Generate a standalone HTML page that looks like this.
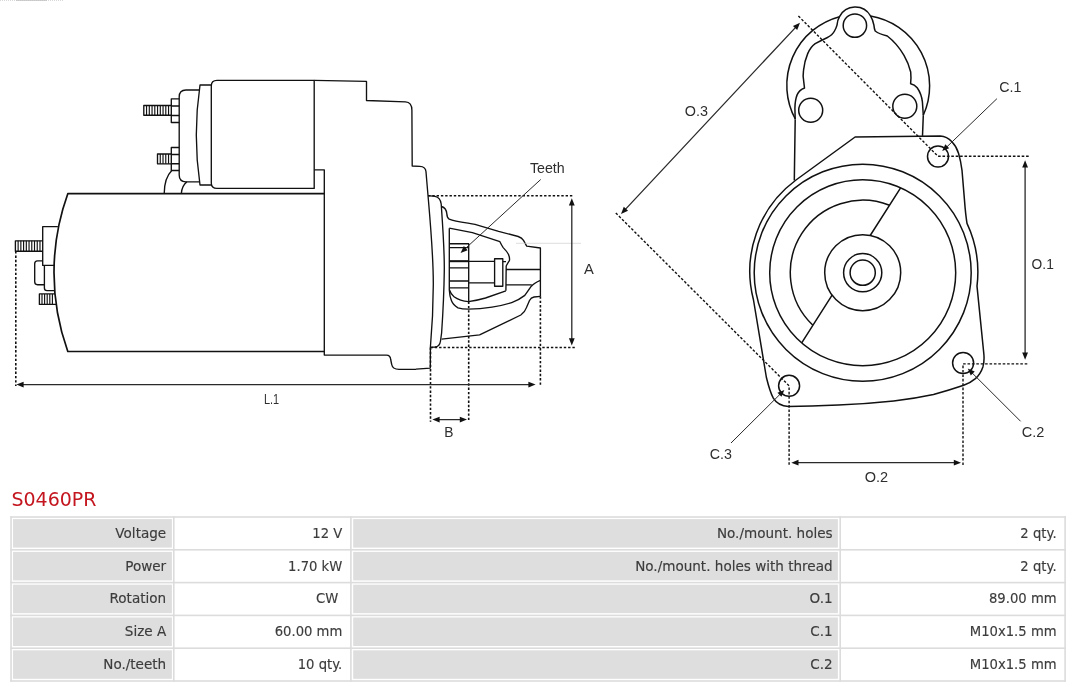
<!DOCTYPE html>
<html lang="en"><head><meta charset="utf-8"><title>S0460PR</title>
<style>
html,body{margin:0;padding:0;background:#fff}
body{width:1080px;height:687px;overflow:hidden}
svg{display:block;position:absolute;left:0;top:0;will-change:transform}
.o{fill:none;stroke:#111;stroke-width:1.35;stroke-linejoin:round;stroke-linecap:butt}
.r{fill:none;stroke:#111;stroke-width:1.5;stroke-linejoin:round}
.t{fill:none;stroke:#111;stroke-width:1.15}
.d{fill:none;stroke:#111;stroke-width:1.6;stroke-dasharray:2.4 1.9}
.d2{fill:none;stroke:#111;stroke-width:1.4;stroke-dasharray:2.6 1.8}
.m{fill:none;stroke:#2a2a2a;stroke-width:1.3}
.ah{fill:#111;stroke:none}
.lb{font-family:"Liberation Sans",sans-serif;font-size:14.7px;fill:#2e2e2e}
.tb{font-family:"DejaVu Sans","Liberation Sans",sans-serif;font-size:13.55px;fill:#3c3c3c;stroke:#3c3c3c;stroke-width:.15px}
.tv{font-family:"DejaVu Sans","Liberation Sans",sans-serif;font-size:13.2px;fill:#3c3c3c;stroke:#3c3c3c;stroke-width:.15px}
.hd{font-family:"DejaVu Sans","Liberation Sans",sans-serif;font-size:19px;fill:#c4161f}
.g{fill:#dedede}
.ln{fill:#dcdcdc}
</style></head><body>
<svg width="1080" height="687" viewBox="0 0 1080 687">
<rect width="1080" height="687" fill="#fff"/>

<path d="M0,.3H64" stroke="#c8c8cc" stroke-width=".9" stroke-dasharray="1 1" fill="none"/><path d="M16,.3H47" stroke="#c2bfbc" stroke-width=".9" fill="none"/>
<g class="o">
<path style="stroke-width:1.7" d="M324.3,193.7L67.8,193.7A232.4,232.4 0 0 0 67.8,351.5L324.3,351.5"/>
<path d="M314.2,169.8L324.3,169.8L324.3,355.1L386.5,355.1Q390.3,355.1 390.7,359.5L391.7,364.5Q392.5,369.2 399,369.3L416,369.2L430.3,368.1L430.4,347.3"/>
<path d="M314.2,80.4L366.5,81.4L366.5,100.5L405.5,101.9Q411.9,102.3 411.9,110.3L412.2,166L419.8,166.3Q425.6,166.5 426,171.8C429.5,215 433.5,250 433.3,285C433.2,310 431.5,335 430.4,347.3"/>
<path d="M314.2,80.4L217,80.4Q211.3,80.4 211.3,86L211.3,183Q211.3,188.4 217,188.4L314.2,188.4Z"/>
<path d="M211.3,85L200,85Q192.6,135 200,185L211.3,185"/>
<path d="M199.4,90L186,90Q179.2,90 179.2,97L179.2,175Q179.2,181.8 186,181.8L199.4,181.8"/>
<path d="M179.2,98.8H171.3V122.5H179.2M171.3,106H179.2M171.3,115.5H179.2"/>
<path d="M179.2,147.5H171.3V170.5H179.2M171.3,154.5H179.2M171.3,163.7H179.2"/>
<path d="M171.3,105.5H143.8V115.2H171.3"/>
<path d="M171.3,154H157.5V163.8H171.3"/>
<path d="M164.2,193.7Q164.3,178 171.6,170.8M181.3,193.7Q182,185.5 186.8,181.9"/>
<path d="M57.9,226.6H42.7V265.4H54.3"/>
<path d="M42.7,240.8H15.4V251.2H42.7"/>
<path d="M42.7,260.9H37.5Q34.7,260.9 34.7,263.8V281.8Q34.7,284.7 37.5,284.7H44.4"/>
<path d="M44.4,265.4V288Q44.4,290.6 47,290.6H54.6"/>
<path d="M55,293.9H39.4V304.4H56"/>
<path d="M428,195.7L435,196.3Q440.5,197.5 441.2,204C443,230 444.5,250 444.3,270C444,295 442.5,320 441.6,333L440.5,341Q439.8,346.5 435,347L430.4,347.3"/>
<path d="M441.6,206.5Q446.3,208 446.8,213.6Q447,217.6 449.2,219.1C455,221.5 465,222.6 475,224.3L498.6,231.3L518.2,236.5Q522,238 523.5,240.4L526.7,246.1L540.4,248L540.4,296.4"/>
<path d="M540.4,280.3Q534,283 531.3,286.2Q528,291 524.8,295.4Q519,300 511.7,302.6Q503,305.5 492,307.1Q480,309 468.5,309.1Q462,309 458,307.8Q453,305 451.4,300.6Q449.6,296 449.3,290L449.3,228.2"/>
<path d="M441.6,339.2L479.6,334.9L520.8,315Q525,312 526.7,307.1L529.5,300.5Q531,297.5 534,297L540.4,296.4"/>
<path d="M449.3,228.2L472.4,232.6L499.9,241.7Q501.5,245 503.2,247.6Q507,251.5 508.4,254.2Q510,258 509.4,260.7Q507.5,263.5 506.2,266L505.9,290.8"/>
<path d="M449.5,290Q451,294.5 454,296.7Q460,301 468.5,301.6Q477,300.5 485.5,298L505.9,290.8"/>
<path d="M449.3,243.7H468.7V301.6M449.3,247.6H468.7M449.3,267.9H468.7M449.3,281H468.7M449.3,287.8H468.7"/>
<path d="M449.3,261.4H494.6M468.7,282.9H494.6" /><path style="stroke-width:2" d="M449.3,261.2H468.7"/>
<path d="M494.6,258.7H502.8V286.2H494.6Z"/>
<path d="M502.8,261.6H506M506,269.5H540.4M506,284.9H531.8"/>
</g>
<path class="t" d="M146.55,105.50V115.20M149.30,105.50V115.20M152.05,105.50V115.20M154.80,105.50V115.20M157.55,105.50V115.20M160.30,105.50V115.20M163.05,105.50V115.20M165.80,105.50V115.20M168.55,105.50V115.20M160.26,154.00V163.80M163.02,154.00V163.80M165.78,154.00V163.80M168.54,154.00V163.80M18.13,240.80V251.20M20.86,240.80V251.20M23.59,240.80V251.20M26.32,240.80V251.20M29.05,240.80V251.20M31.78,240.80V251.20M34.51,240.80V251.20M37.24,240.80V251.20M39.97,240.80V251.20M42.00,293.90V304.40M44.60,293.90V304.40M47.20,293.90V304.40M49.80,293.90V304.40M52.40,293.90V304.40"/>
<path class="d" d="M428,195.8H572.6M430.5,347.5H575.2M15.8,251.2V386M540.4,296.4V386M430.5,347.5V421.8M468.7,301.6V421.8"/>
<path d="M516,243.3H581" stroke="#cfcfcf" stroke-width=".7" fill="none"/>
<path class="m" d="M571.8,203V341M20,384.6H531M437,419.6H462.5"/><path class="m" style="stroke-width:1" d="M540.7,179.5L464.5,249.3"/>
<g class="ah">
<polygon points="571.80,198.30 574.70,205.50 568.90,205.50"/>
<polygon points="571.80,345.50 568.90,338.30 574.70,338.30"/>
<polygon points="16.40,384.60 23.60,381.70 23.60,387.50"/>
<polygon points="535.60,384.60 528.40,387.50 528.40,381.70"/>
<polygon points="432.40,419.60 439.60,416.70 439.60,422.50"/>
<polygon points="467.00,419.60 459.80,422.50 459.80,416.70"/>
<polygon points="460.60,252.90 463.87,246.11 467.65,250.24"/>
</g>
<text class="lb" x="529.9" y="173.4" textLength="34.8" lengthAdjust="spacingAndGlyphs">Teeth</text>
<text class="lb" x="584.0" y="274.3">A</text>
<text class="lb" x="444.2" y="437.0" textLength="9.2" lengthAdjust="spacingAndGlyphs">B</text>
<text class="lb" x="264.0" y="403.9" textLength="15.2" lengthAdjust="spacingAndGlyphs">L.1</text>
<g class="r">
<circle cx="862.7" cy="272.7" r="12.6"/>
<circle cx="862.7" cy="272.7" r="19.1"/>
<circle cx="862.7" cy="272.7" r="38.0"/>
<circle cx="862.7" cy="272.7" r="93.0"/>
<circle cx="862.7" cy="272.7" r="108.5"/>
<path d="M900.6,187.8L870.2,235.5M832.1,295.2L801.7,342.9"/>
<path d="M889.5,205.3A72.5,72.5 0 0 0 812.9,325.3"/>
<path d="M796,180L855.1,137L940.2,135.9Q947,136.2 951.9,141.8Q956.5,146.5 958.6,153.5Q960.8,161 962,170.3L964.5,200.4Q965.5,214 967,223.4A115.6,115.6 0 0 1 977,286.2L983.8,353.5Q984.6,361 982.9,366.9Q980.5,374 975.4,378.6Q970.5,382.8 963.7,385.3Q950,390 933.5,394.5Q915,398.5 893.7,401Q865,404 838.4,405.1Q810,406.5 788.5,406.5Q778,406 773.3,398.2Q770,392 766.4,377.5L753.5,300A113.4,113.4 0 0 1 796,180"/>
<path d="M795.3,119A71,71 0 0 1 839.5,16.7"/>
<path d="M870.5,15.9A71,71 0 0 1 923.3,115.2"/>
<path d="M795.2,119.4L794.3,180.5M923.3,115.2L922.5,135.9"/>
<path d="M795.2,119.4L794.9,108.2Q795,100 797.2,94.6Q799.3,90 804.5,88L803.8,82.1Q802.6,76 803.5,70.4Q804.5,61 807.7,53.6Q810.5,47 815.2,43.6Q821,40.5 827,37.7Q832.5,35 834.5,31Q836.2,28 837,25.1Q837.5,20 839.5,16.7A17.6,17.6 0 0 1 870.5,15.9Q873,20 873.9,25.1Q874.2,28.5 875.2,31Q879,34 887.3,36Q897,43.5 904,55.3Q908.5,63 910.7,72Q911.3,78 910.6,83.7Q914.5,84.5 917.2,87.8Q921.5,94 922.4,101.8L923.3,115.2"/>
<circle cx="854.9" cy="25.6" r="11.7"/>
<circle cx="810.7" cy="110.2" r="12.0"/>
<circle cx="904.8" cy="106.3" r="12.0"/>
<circle cx="938.0" cy="156.5" r="10.5"/>
<circle cx="963.1" cy="363.0" r="10.5"/>
<circle cx="789.1" cy="385.8" r="10.5"/>
</g>
<path class="d2" d="M798.4,16L938,156.3H1029M615.8,213L789.1,385.8V465M963,465V363.9H1029"/>
<path class="m" d="M624.2,210.6L796.8,26.1M1025.1,165V355M796,462.7H956.5"/><path class="m" style="stroke-width:1" d="M996.9,98.7L945.5,148.2M1020.6,421.3L971,371.8M731,443L781.3,393"/>
<g class="ah">
<polygon points="800.00,22.70 797.20,29.94 792.96,25.98"/>
<polygon points="621.00,214.00 623.80,206.76 628.04,210.72"/>
<polygon points="1025.10,160.20 1028.00,167.40 1022.20,167.40"/>
<polygon points="1025.10,359.70 1022.20,352.50 1028.00,352.50"/>
<polygon points="791.30,462.70 798.50,459.80 798.50,465.60"/>
<polygon points="961.00,462.70 953.80,465.60 953.80,459.80"/>
<polygon points="942.20,151.10 945.32,144.24 949.19,148.28"/>
<polygon points="967.80,368.60 974.73,371.56 970.78,375.53"/>
<polygon points="784.40,389.90 781.41,396.82 777.46,392.85"/>
</g>
<text class="lb" x="684.8" y="115.6" textLength="23.2" lengthAdjust="spacingAndGlyphs">O.3</text>
<text class="lb" x="1031.6" y="269.1" textLength="22.2" lengthAdjust="spacingAndGlyphs">O.1</text>
<text class="lb" x="864.8" y="482.1" textLength="23.4" lengthAdjust="spacingAndGlyphs">O.2</text>
<text class="lb" x="999.3" y="92.0" textLength="22.2" lengthAdjust="spacingAndGlyphs">C.1</text>
<text class="lb" x="1021.7" y="437.0" textLength="22.6" lengthAdjust="spacingAndGlyphs">C.2</text>
<text class="lb" x="709.8" y="459.1" textLength="22.2" lengthAdjust="spacingAndGlyphs">C.3</text>
<text class="hd" x="11.4" y="505.9">S0460PR</text>
<rect class="ln" x="10.25" y="516.20" width="1055.65" height="1.60"/>
<rect class="ln" x="10.25" y="549.00" width="1055.65" height="1.60"/>
<rect class="ln" x="10.25" y="581.80" width="1055.65" height="1.60"/>
<rect class="ln" x="10.25" y="614.60" width="1055.65" height="1.60"/>
<rect class="ln" x="10.25" y="647.40" width="1055.65" height="1.60"/>
<rect class="ln" x="10.25" y="680.20" width="1055.65" height="1.60"/>
<rect class="ln" x="10.25" y="516.20" width="1.60" height="165.60"/>
<rect class="ln" x="173.00" y="516.20" width="1.60" height="165.60"/>
<rect class="ln" x="350.10" y="516.20" width="1.60" height="165.60"/>
<rect class="ln" x="839.40" y="516.20" width="1.60" height="165.60"/>
<rect class="ln" x="1064.30" y="516.20" width="1.60" height="165.60"/>
<rect class="g" x="13.05" y="519.10" width="158.85" height="28.50"/>
<rect class="g" x="353.2" y="519.10" width="484.70" height="28.50"/>
<text class="tb" text-anchor="end" x="166.2" y="537.7">Voltage</text>
<text class="tv" text-anchor="end" x="342.3" y="537.7">12 V</text>
<text class="tb" text-anchor="end" x="832.6" y="537.7">No./mount. holes</text>
<text class="tv" text-anchor="end" x="1056.6" y="537.7">2 qty.</text>
<rect class="g" x="13.05" y="551.90" width="158.85" height="28.50"/>
<rect class="g" x="353.2" y="551.90" width="484.70" height="28.50"/>
<text class="tb" text-anchor="end" x="166.2" y="570.5">Power</text>
<text class="tv" text-anchor="end" x="342.3" y="570.5">1.70 kW</text>
<text class="tb" text-anchor="end" x="832.6" y="570.5">No./mount. holes with thread</text>
<text class="tv" text-anchor="end" x="1056.6" y="570.5">2 qty.</text>
<rect class="g" x="13.05" y="584.70" width="158.85" height="28.50"/>
<rect class="g" x="353.2" y="584.70" width="484.70" height="28.50"/>
<text class="tb" text-anchor="end" x="166.2" y="603.3">Rotation</text>
<text class="tv" text-anchor="end" x="338.3" y="603.3">CW</text>
<text class="tb" text-anchor="end" x="832.6" y="603.3">O.1</text>
<text class="tv" text-anchor="end" x="1056.6" y="603.3">89.00 mm</text>
<rect class="g" x="13.05" y="617.50" width="158.85" height="28.50"/>
<rect class="g" x="353.2" y="617.50" width="484.70" height="28.50"/>
<text class="tb" text-anchor="end" x="166.2" y="636.1">Size A</text>
<text class="tv" text-anchor="end" x="342.3" y="636.1">60.00 mm</text>
<text class="tb" text-anchor="end" x="832.6" y="636.1">C.1</text>
<text class="tv" text-anchor="end" x="1056.6" y="636.1">M10x1.5 mm</text>
<rect class="g" x="13.05" y="650.30" width="158.85" height="28.50"/>
<rect class="g" x="353.2" y="650.30" width="484.70" height="28.50"/>
<text class="tb" text-anchor="end" x="166.2" y="668.9">No./teeth</text>
<text class="tv" text-anchor="end" x="342.3" y="668.9">10 qty.</text>
<text class="tb" text-anchor="end" x="832.6" y="668.9">C.2</text>
<text class="tv" text-anchor="end" x="1056.6" y="668.9">M10x1.5 mm</text>
</svg></body></html>
